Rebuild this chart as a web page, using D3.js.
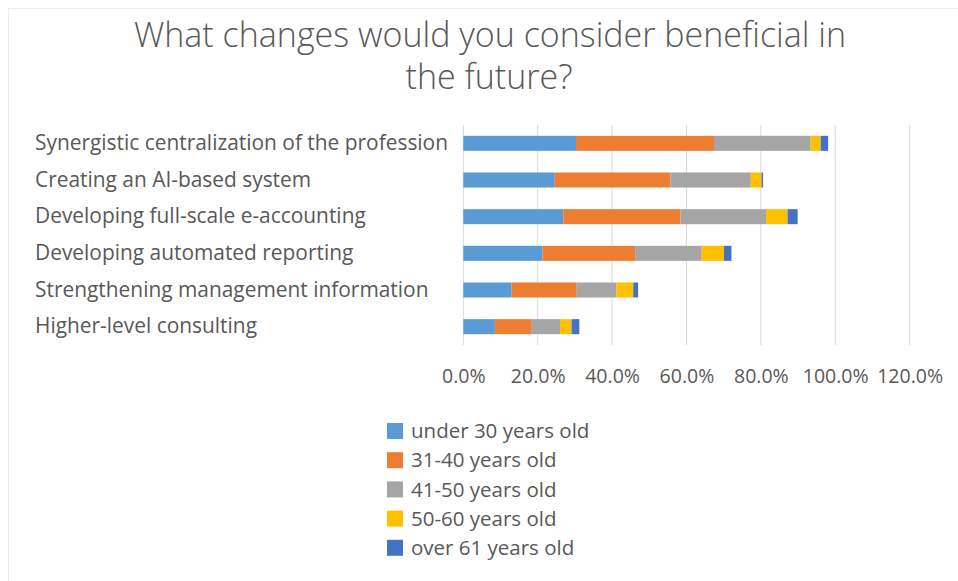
<!DOCTYPE html>
<html>
<head>
<meta charset="utf-8">
<script src="https://cdn.jsdelivr.net/npm/d3@7"></script>
<style>
  html, body { margin: 0; padding: 0; background: #fff; }
  svg { display: block; font-family: "Open Sans", "Noto Sans", sans-serif; }
</style>
</head>
<body>
<svg id="chart" width="958" height="581"></svg>
<script>
// Survey answers by age group, percent of respondents
const categories = [
  "Synergistic centralization of the profession",
  "Creating an AI-based system",
  "Developing full-scale e-accounting",
  "Developing automated reporting",
  "Strengthening management information",
  "Higher-level consulting"
];
const seriesNames = [
  "under 30 years old",
  "31-40 years old",
  "41-50 years old",
  "50-60 years old",
  "over 61 years old"
];
const under30 = [30.3, 24.6, 26.9, 21.3, 13.0, 8.5];
const age31to40 = [37.1, 31.1, 31.5, 24.9, 17.5, 9.9];
const age41to50 = [26.0, 21.6, 23.0, 17.9, 10.7, 7.6];
const age50to60 = [2.7, 2.9, 5.8, 6.0, 4.5, 3.1];
const over61 = [2.0, 0.4, 2.7, 2.0, 1.3, 2.1];
const tickValues = [0, 20, 40, 60, 80, 100, 120];
const colors = ["#5B9BD5", "#ED7D31", "#A5A5A5", "#FFC000", "#4472C4"];

const seriesValues = [under30, age31to40, age41to50, age50to60, over61];
const rows = categories.map((c, i) => {
  const r = { category: c };
  seriesNames.forEach((s, k) => { r[s] = seriesValues[k][i]; });
  return r;
});

const svg = d3.select("#chart");
const textColor = "#595959";

// faint chart-area frame
svg.append("rect")
  .attr("x", 8.5).attr("y", 8.5)
  .attr("width", 960).attr("height", 580)
  .attr("fill", "none").attr("stroke", "#ececec");

// title
const title = svg.append("text")
  .attr("text-anchor", "middle")
  .attr("fill", textColor)
  .attr("font-size", 34)
  .attr("font-weight", 300);
title.append("tspan").attr("x", 490).attr("y", 47)
  .text("What changes would you consider beneficial in");
title.append("tspan").attr("x", 489).attr("y", 89)
  .text("the future?");

const x = d3.scaleLinear().domain([0, 120]).range([463.3, 909.6]);
const y = d3.scaleBand().domain(categories).range([125, 345])
  .paddingInner(0.59).paddingOuter(0.295);

// vertical gridlines
svg.append("g").selectAll("line")
  .data(tickValues)
  .join("line")
  .attr("x1", d => x(d)).attr("x2", d => x(d))
  .attr("y1", 125).attr("y2", 345)
  .attr("stroke", "#d9d9d9").attr("stroke-width", 1);

// stacked bars
const stack = d3.stack().keys(seriesNames)(rows);
svg.append("g").selectAll("g")
  .data(stack)
  .join("g")
  .attr("fill", (d, i) => colors[i])
  .selectAll("rect")
  .data(d => d)
  .join("rect")
  .attr("x", d => x(d[0]))
  .attr("width", d => x(d[1]) - x(d[0]))
  .attr("y", d => y(d.data.category))
  .attr("height", y.bandwidth());

// category labels
const yAxis = svg.append("g")
  .attr("transform", "translate(463.3,0)")
  .call(d3.axisLeft(y).tickSize(0).tickPadding(12));
yAxis.select(".domain").remove();
yAxis.selectAll("text")
  .attr("fill", textColor)
  .attr("font-size", 20.9)
  .attr("font-family", "\"Open Sans\", sans-serif")
  .attr("text-anchor", "start")
  .attr("x", 35 - 463.3);

// value axis labels
const xAxis = svg.append("g")
  .attr("transform", "translate(0,369)")
  .call(d3.axisBottom(x).tickValues(tickValues).tickSize(0).tickPadding(0)
    .tickFormat(d => d3.format(".1f")(d) + "%"));
xAxis.select(".domain").remove();
xAxis.selectAll("text")
  .attr("fill", textColor)
  .attr("font-size", 19.5)
  .attr("font-family", "\"Open Sans\", sans-serif");

// legend
const legend = svg.append("g").selectAll("g")
  .data(seriesNames)
  .join("g")
  .attr("transform", (d, i) => `translate(387,${431 + i * 29.2})`);
legend.append("rect")
  .attr("x", 0).attr("y", -8)
  .attr("width", 16).attr("height", 16)
  .attr("fill", (d, i) => colors[i]);
legend.append("text")
  .attr("x", 24).attr("y", 0).attr("dy", "0.35em")
  .attr("fill", textColor)
  .attr("font-size", 20.5)
  .text(d => d);
</script>
</body>
</html>
